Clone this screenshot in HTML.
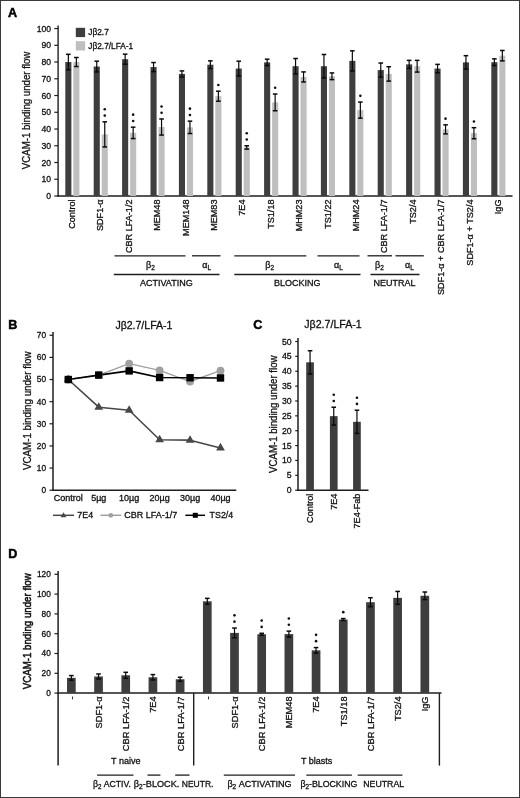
<!DOCTYPE html>
<html><head><meta charset="utf-8"><style>
html,body{margin:0;padding:0;background:#fff;}
#fig{position:relative;width:518px;height:796px;border:1px solid #3a3a3a;overflow:hidden;background:#fff;}
svg{position:absolute;left:-1px;top:-1px;filter:blur(0.3px);}
text{font-family:"Liberation Sans", sans-serif;stroke:#111;stroke-width:0.3px;}
</style></head><body><div id="fig">
<svg width="520" height="798" viewBox="0 0 520 798">
<text x="8.00" y="17.30" font-size="12.6" text-anchor="start" font-weight="bold" fill="#000" style="stroke:#000;stroke-width:0.5px">A</text>
<line x1="58.10" y1="25.50" x2="58.10" y2="196.70" stroke="#1e1e1e" stroke-width="1.4"/>
<line x1="57.40" y1="196.00" x2="512.50" y2="196.00" stroke="#1e1e1e" stroke-width="1.4"/>
<line x1="54.30" y1="196.00" x2="58.10" y2="196.00" stroke="#1e1e1e" stroke-width="1.2"/>
<text x="51.00" y="199.00" font-size="8.6" text-anchor="end" font-weight="normal" fill="#111" >0</text>
<line x1="54.30" y1="179.25" x2="58.10" y2="179.25" stroke="#1e1e1e" stroke-width="1.2"/>
<text x="51.00" y="182.25" font-size="8.6" text-anchor="end" font-weight="normal" fill="#111" >10</text>
<line x1="54.30" y1="162.51" x2="58.10" y2="162.51" stroke="#1e1e1e" stroke-width="1.2"/>
<text x="51.00" y="165.51" font-size="8.6" text-anchor="end" font-weight="normal" fill="#111" >20</text>
<line x1="54.30" y1="145.76" x2="58.10" y2="145.76" stroke="#1e1e1e" stroke-width="1.2"/>
<text x="51.00" y="148.76" font-size="8.6" text-anchor="end" font-weight="normal" fill="#111" >30</text>
<line x1="54.30" y1="129.02" x2="58.10" y2="129.02" stroke="#1e1e1e" stroke-width="1.2"/>
<text x="51.00" y="132.02" font-size="8.6" text-anchor="end" font-weight="normal" fill="#111" >40</text>
<line x1="54.30" y1="112.27" x2="58.10" y2="112.27" stroke="#1e1e1e" stroke-width="1.2"/>
<text x="51.00" y="115.27" font-size="8.6" text-anchor="end" font-weight="normal" fill="#111" >50</text>
<line x1="54.30" y1="95.52" x2="58.10" y2="95.52" stroke="#1e1e1e" stroke-width="1.2"/>
<text x="51.00" y="98.52" font-size="8.6" text-anchor="end" font-weight="normal" fill="#111" >60</text>
<line x1="54.30" y1="78.78" x2="58.10" y2="78.78" stroke="#1e1e1e" stroke-width="1.2"/>
<text x="51.00" y="81.78" font-size="8.6" text-anchor="end" font-weight="normal" fill="#111" >70</text>
<line x1="54.30" y1="62.03" x2="58.10" y2="62.03" stroke="#1e1e1e" stroke-width="1.2"/>
<text x="51.00" y="65.03" font-size="8.6" text-anchor="end" font-weight="normal" fill="#111" >80</text>
<line x1="54.30" y1="45.29" x2="58.10" y2="45.29" stroke="#1e1e1e" stroke-width="1.2"/>
<text x="51.00" y="48.29" font-size="8.6" text-anchor="end" font-weight="normal" fill="#111" >90</text>
<line x1="54.30" y1="28.54" x2="58.10" y2="28.54" stroke="#1e1e1e" stroke-width="1.2"/>
<text x="51.00" y="31.54" font-size="8.6" text-anchor="end" font-weight="normal" fill="#111" >100</text>
<rect x="75.80" y="27.80" width="9.30" height="9.30" fill="#3e3e3e"/>
<rect x="75.80" y="41.20" width="9.30" height="9.30" fill="#bfbfbf"/>
<text x="88.30" y="35.30" font-size="8.3" text-anchor="start" font-weight="normal" fill="#111" >Jβ2.7</text>
<text x="88.30" y="48.50" font-size="8.3" text-anchor="start" font-weight="normal" fill="#111" >Jβ2.7/LFA-1</text>
<text transform="translate(30.30,110.40) rotate(-90)" font-size="10.5" text-anchor="middle" fill="#111" textLength="117.5" lengthAdjust="spacingAndGlyphs" >VCAM-1 binding under flow</text>
<rect x="65.30" y="62.03" width="6.10" height="133.97" fill="#3e3e3e"/>
<line x1="68.35" y1="54.33" x2="68.35" y2="69.74" stroke="#0a0a0a" stroke-width="1.2"/>
<line x1="66.05" y1="54.33" x2="70.65" y2="54.33" stroke="#0a0a0a" stroke-width="1.5"/>
<line x1="66.05" y1="69.74" x2="70.65" y2="69.74" stroke="#0a0a0a" stroke-width="1.5"/>
<rect x="73.30" y="62.03" width="6.10" height="133.97" fill="#bfbfbf"/>
<line x1="76.35" y1="57.51" x2="76.35" y2="66.55" stroke="#0a0a0a" stroke-width="1.2"/>
<line x1="74.05" y1="57.51" x2="78.65" y2="57.51" stroke="#0a0a0a" stroke-width="1.5"/>
<line x1="74.05" y1="66.55" x2="78.65" y2="66.55" stroke="#0a0a0a" stroke-width="1.5"/>
<text transform="translate(75.05,199.50) rotate(-90)" font-size="9.1" text-anchor="end" fill="#111" >Control</text>
<rect x="93.70" y="66.55" width="6.10" height="129.45" fill="#3e3e3e"/>
<line x1="96.75" y1="61.19" x2="96.75" y2="71.91" stroke="#0a0a0a" stroke-width="1.2"/>
<line x1="94.45" y1="61.19" x2="99.05" y2="61.19" stroke="#0a0a0a" stroke-width="1.5"/>
<line x1="94.45" y1="71.91" x2="99.05" y2="71.91" stroke="#0a0a0a" stroke-width="1.5"/>
<rect x="101.70" y="134.37" width="6.10" height="61.63" fill="#bfbfbf"/>
<line x1="104.75" y1="121.82" x2="104.75" y2="146.93" stroke="#0a0a0a" stroke-width="1.2"/>
<line x1="102.45" y1="121.82" x2="107.05" y2="121.82" stroke="#0a0a0a" stroke-width="1.5"/>
<line x1="102.45" y1="146.93" x2="107.05" y2="146.93" stroke="#0a0a0a" stroke-width="1.5"/>
<circle cx="104.75" cy="115.62" r="1.3" fill="#111"/>
<circle cx="104.75" cy="109.32" r="1.3" fill="#111"/>
<text transform="translate(103.45,199.50) rotate(-90)" font-size="9.1" text-anchor="end" fill="#111" >SDF1-α</text>
<rect x="122.10" y="59.19" width="6.10" height="136.81" fill="#3e3e3e"/>
<line x1="125.15" y1="54.16" x2="125.15" y2="64.21" stroke="#0a0a0a" stroke-width="1.2"/>
<line x1="122.85" y1="54.16" x2="127.45" y2="54.16" stroke="#0a0a0a" stroke-width="1.5"/>
<line x1="122.85" y1="64.21" x2="127.45" y2="64.21" stroke="#0a0a0a" stroke-width="1.5"/>
<rect x="130.10" y="132.87" width="6.10" height="63.13" fill="#bfbfbf"/>
<line x1="133.15" y1="127.17" x2="133.15" y2="138.56" stroke="#0a0a0a" stroke-width="1.2"/>
<line x1="130.85" y1="127.17" x2="135.45" y2="127.17" stroke="#0a0a0a" stroke-width="1.5"/>
<line x1="130.85" y1="138.56" x2="135.45" y2="138.56" stroke="#0a0a0a" stroke-width="1.5"/>
<circle cx="133.15" cy="120.97" r="1.3" fill="#111"/>
<circle cx="133.15" cy="114.67" r="1.3" fill="#111"/>
<text transform="translate(131.85,199.50) rotate(-90)" font-size="9.1" text-anchor="end" fill="#111" >CBR LFA-1/2</text>
<rect x="150.50" y="67.06" width="6.10" height="128.94" fill="#3e3e3e"/>
<line x1="153.55" y1="62.53" x2="153.55" y2="71.58" stroke="#0a0a0a" stroke-width="1.2"/>
<line x1="151.25" y1="62.53" x2="155.85" y2="62.53" stroke="#0a0a0a" stroke-width="1.5"/>
<line x1="151.25" y1="71.58" x2="155.85" y2="71.58" stroke="#0a0a0a" stroke-width="1.5"/>
<rect x="158.50" y="127.01" width="6.10" height="68.99" fill="#bfbfbf"/>
<line x1="161.55" y1="118.97" x2="161.55" y2="135.04" stroke="#0a0a0a" stroke-width="1.2"/>
<line x1="159.25" y1="118.97" x2="163.85" y2="118.97" stroke="#0a0a0a" stroke-width="1.5"/>
<line x1="159.25" y1="135.04" x2="163.85" y2="135.04" stroke="#0a0a0a" stroke-width="1.5"/>
<circle cx="161.55" cy="112.77" r="1.3" fill="#111"/>
<circle cx="161.55" cy="106.47" r="1.3" fill="#111"/>
<text transform="translate(160.25,199.50) rotate(-90)" font-size="9.1" text-anchor="end" fill="#111" >MEM48</text>
<rect x="178.90" y="73.92" width="6.10" height="122.08" fill="#3e3e3e"/>
<line x1="181.95" y1="70.91" x2="181.95" y2="76.94" stroke="#0a0a0a" stroke-width="1.2"/>
<line x1="179.65" y1="70.91" x2="184.25" y2="70.91" stroke="#0a0a0a" stroke-width="1.5"/>
<line x1="179.65" y1="76.94" x2="184.25" y2="76.94" stroke="#0a0a0a" stroke-width="1.5"/>
<rect x="186.90" y="127.34" width="6.10" height="68.66" fill="#bfbfbf"/>
<line x1="189.95" y1="121.15" x2="189.95" y2="133.54" stroke="#0a0a0a" stroke-width="1.2"/>
<line x1="187.65" y1="121.15" x2="192.25" y2="121.15" stroke="#0a0a0a" stroke-width="1.5"/>
<line x1="187.65" y1="133.54" x2="192.25" y2="133.54" stroke="#0a0a0a" stroke-width="1.5"/>
<circle cx="189.95" cy="114.95" r="1.3" fill="#111"/>
<circle cx="189.95" cy="108.65" r="1.3" fill="#111"/>
<text transform="translate(188.65,199.50) rotate(-90)" font-size="9.1" text-anchor="end" fill="#111" >MEM148</text>
<rect x="207.30" y="64.71" width="6.10" height="131.29" fill="#3e3e3e"/>
<line x1="210.35" y1="60.86" x2="210.35" y2="68.56" stroke="#0a0a0a" stroke-width="1.2"/>
<line x1="208.05" y1="60.86" x2="212.65" y2="60.86" stroke="#0a0a0a" stroke-width="1.5"/>
<line x1="208.05" y1="68.56" x2="212.65" y2="68.56" stroke="#0a0a0a" stroke-width="1.5"/>
<rect x="215.30" y="96.19" width="6.10" height="99.81" fill="#bfbfbf"/>
<line x1="218.35" y1="91.17" x2="218.35" y2="101.22" stroke="#0a0a0a" stroke-width="1.2"/>
<line x1="216.05" y1="91.17" x2="220.65" y2="91.17" stroke="#0a0a0a" stroke-width="1.5"/>
<line x1="216.05" y1="101.22" x2="220.65" y2="101.22" stroke="#0a0a0a" stroke-width="1.5"/>
<circle cx="218.35" cy="84.97" r="1.3" fill="#111"/>
<text transform="translate(217.05,199.50) rotate(-90)" font-size="9.1" text-anchor="end" fill="#111" >MEM83</text>
<rect x="235.70" y="68.56" width="6.10" height="127.44" fill="#3e3e3e"/>
<line x1="238.75" y1="61.19" x2="238.75" y2="75.93" stroke="#0a0a0a" stroke-width="1.2"/>
<line x1="236.45" y1="61.19" x2="241.05" y2="61.19" stroke="#0a0a0a" stroke-width="1.5"/>
<line x1="236.45" y1="75.93" x2="241.05" y2="75.93" stroke="#0a0a0a" stroke-width="1.5"/>
<rect x="243.70" y="147.44" width="6.10" height="48.56" fill="#bfbfbf"/>
<line x1="246.75" y1="145.76" x2="246.75" y2="149.11" stroke="#0a0a0a" stroke-width="1.2"/>
<line x1="244.45" y1="145.76" x2="249.05" y2="145.76" stroke="#0a0a0a" stroke-width="1.5"/>
<line x1="244.45" y1="149.11" x2="249.05" y2="149.11" stroke="#0a0a0a" stroke-width="1.5"/>
<circle cx="246.75" cy="139.56" r="1.3" fill="#111"/>
<circle cx="246.75" cy="133.26" r="1.3" fill="#111"/>
<text transform="translate(245.45,199.50) rotate(-90)" font-size="9.1" text-anchor="end" fill="#111" >7E4</text>
<rect x="264.10" y="62.37" width="6.10" height="133.63" fill="#3e3e3e"/>
<line x1="267.15" y1="59.19" x2="267.15" y2="65.55" stroke="#0a0a0a" stroke-width="1.2"/>
<line x1="264.85" y1="59.19" x2="269.45" y2="59.19" stroke="#0a0a0a" stroke-width="1.5"/>
<line x1="264.85" y1="65.55" x2="269.45" y2="65.55" stroke="#0a0a0a" stroke-width="1.5"/>
<rect x="272.10" y="102.39" width="6.10" height="93.61" fill="#bfbfbf"/>
<line x1="275.15" y1="94.02" x2="275.15" y2="110.76" stroke="#0a0a0a" stroke-width="1.2"/>
<line x1="272.85" y1="94.02" x2="277.45" y2="94.02" stroke="#0a0a0a" stroke-width="1.5"/>
<line x1="272.85" y1="110.76" x2="277.45" y2="110.76" stroke="#0a0a0a" stroke-width="1.5"/>
<circle cx="275.15" cy="87.82" r="1.3" fill="#111"/>
<text transform="translate(273.85,199.50) rotate(-90)" font-size="9.1" text-anchor="end" fill="#111" >TS1/18</text>
<rect x="292.50" y="66.22" width="6.10" height="129.78" fill="#3e3e3e"/>
<line x1="295.55" y1="58.52" x2="295.55" y2="73.92" stroke="#0a0a0a" stroke-width="1.2"/>
<line x1="293.25" y1="58.52" x2="297.85" y2="58.52" stroke="#0a0a0a" stroke-width="1.5"/>
<line x1="293.25" y1="73.92" x2="297.85" y2="73.92" stroke="#0a0a0a" stroke-width="1.5"/>
<rect x="300.50" y="76.94" width="6.10" height="119.06" fill="#bfbfbf"/>
<line x1="303.55" y1="71.91" x2="303.55" y2="81.96" stroke="#0a0a0a" stroke-width="1.2"/>
<line x1="301.25" y1="71.91" x2="305.85" y2="71.91" stroke="#0a0a0a" stroke-width="1.5"/>
<line x1="301.25" y1="81.96" x2="305.85" y2="81.96" stroke="#0a0a0a" stroke-width="1.5"/>
<text transform="translate(302.25,199.50) rotate(-90)" font-size="9.1" text-anchor="end" fill="#111" >MHM23</text>
<rect x="320.90" y="66.22" width="6.10" height="129.78" fill="#3e3e3e"/>
<line x1="323.95" y1="54.50" x2="323.95" y2="77.94" stroke="#0a0a0a" stroke-width="1.2"/>
<line x1="321.65" y1="54.50" x2="326.25" y2="54.50" stroke="#0a0a0a" stroke-width="1.5"/>
<line x1="321.65" y1="77.94" x2="326.25" y2="77.94" stroke="#0a0a0a" stroke-width="1.5"/>
<rect x="328.90" y="76.27" width="6.10" height="119.73" fill="#bfbfbf"/>
<line x1="331.95" y1="72.92" x2="331.95" y2="79.62" stroke="#0a0a0a" stroke-width="1.2"/>
<line x1="329.65" y1="72.92" x2="334.25" y2="72.92" stroke="#0a0a0a" stroke-width="1.5"/>
<line x1="329.65" y1="79.62" x2="334.25" y2="79.62" stroke="#0a0a0a" stroke-width="1.5"/>
<text transform="translate(330.65,199.50) rotate(-90)" font-size="9.1" text-anchor="end" fill="#111" >TS1/22</text>
<rect x="349.30" y="60.86" width="6.10" height="135.14" fill="#3e3e3e"/>
<line x1="352.35" y1="50.81" x2="352.35" y2="70.91" stroke="#0a0a0a" stroke-width="1.2"/>
<line x1="350.05" y1="50.81" x2="354.65" y2="50.81" stroke="#0a0a0a" stroke-width="1.5"/>
<line x1="350.05" y1="70.91" x2="354.65" y2="70.91" stroke="#0a0a0a" stroke-width="1.5"/>
<rect x="357.30" y="110.09" width="6.10" height="85.91" fill="#bfbfbf"/>
<line x1="360.35" y1="102.05" x2="360.35" y2="118.13" stroke="#0a0a0a" stroke-width="1.2"/>
<line x1="358.05" y1="102.05" x2="362.65" y2="102.05" stroke="#0a0a0a" stroke-width="1.5"/>
<line x1="358.05" y1="118.13" x2="362.65" y2="118.13" stroke="#0a0a0a" stroke-width="1.5"/>
<circle cx="360.35" cy="95.85" r="1.3" fill="#111"/>
<text transform="translate(359.05,199.50) rotate(-90)" font-size="9.1" text-anchor="end" fill="#111" >MHM24</text>
<rect x="377.70" y="70.07" width="6.10" height="125.93" fill="#3e3e3e"/>
<line x1="380.75" y1="63.04" x2="380.75" y2="77.10" stroke="#0a0a0a" stroke-width="1.2"/>
<line x1="378.45" y1="63.04" x2="383.05" y2="63.04" stroke="#0a0a0a" stroke-width="1.5"/>
<line x1="378.45" y1="77.10" x2="383.05" y2="77.10" stroke="#0a0a0a" stroke-width="1.5"/>
<rect x="385.70" y="73.92" width="6.10" height="122.08" fill="#bfbfbf"/>
<line x1="388.75" y1="66.72" x2="388.75" y2="81.12" stroke="#0a0a0a" stroke-width="1.2"/>
<line x1="386.45" y1="66.72" x2="391.05" y2="66.72" stroke="#0a0a0a" stroke-width="1.5"/>
<line x1="386.45" y1="81.12" x2="391.05" y2="81.12" stroke="#0a0a0a" stroke-width="1.5"/>
<text transform="translate(387.45,199.50) rotate(-90)" font-size="9.1" text-anchor="end" fill="#111" >CBR LFA-1/7</text>
<rect x="406.10" y="64.38" width="6.10" height="131.62" fill="#3e3e3e"/>
<line x1="409.15" y1="60.36" x2="409.15" y2="68.40" stroke="#0a0a0a" stroke-width="1.2"/>
<line x1="406.85" y1="60.36" x2="411.45" y2="60.36" stroke="#0a0a0a" stroke-width="1.5"/>
<line x1="406.85" y1="68.40" x2="411.45" y2="68.40" stroke="#0a0a0a" stroke-width="1.5"/>
<rect x="414.10" y="66.22" width="6.10" height="129.78" fill="#bfbfbf"/>
<line x1="417.15" y1="60.36" x2="417.15" y2="72.08" stroke="#0a0a0a" stroke-width="1.2"/>
<line x1="414.85" y1="60.36" x2="419.45" y2="60.36" stroke="#0a0a0a" stroke-width="1.5"/>
<line x1="414.85" y1="72.08" x2="419.45" y2="72.08" stroke="#0a0a0a" stroke-width="1.5"/>
<text transform="translate(415.85,199.50) rotate(-90)" font-size="9.1" text-anchor="end" fill="#111" >TS2/4</text>
<rect x="434.50" y="68.56" width="6.10" height="127.44" fill="#3e3e3e"/>
<line x1="437.55" y1="64.38" x2="437.55" y2="72.75" stroke="#0a0a0a" stroke-width="1.2"/>
<line x1="435.25" y1="64.38" x2="439.85" y2="64.38" stroke="#0a0a0a" stroke-width="1.5"/>
<line x1="435.25" y1="72.75" x2="439.85" y2="72.75" stroke="#0a0a0a" stroke-width="1.5"/>
<rect x="442.50" y="129.35" width="6.10" height="66.65" fill="#bfbfbf"/>
<line x1="445.55" y1="124.83" x2="445.55" y2="133.87" stroke="#0a0a0a" stroke-width="1.2"/>
<line x1="443.25" y1="124.83" x2="447.85" y2="124.83" stroke="#0a0a0a" stroke-width="1.5"/>
<line x1="443.25" y1="133.87" x2="447.85" y2="133.87" stroke="#0a0a0a" stroke-width="1.5"/>
<circle cx="445.55" cy="118.63" r="1.3" fill="#111"/>
<text transform="translate(444.25,199.50) rotate(-90)" font-size="9.1" text-anchor="end" fill="#111" >SDF1-α + CBR LFA-1/7</text>
<rect x="462.90" y="62.37" width="6.10" height="133.63" fill="#3e3e3e"/>
<line x1="465.95" y1="55.67" x2="465.95" y2="69.07" stroke="#0a0a0a" stroke-width="1.2"/>
<line x1="463.65" y1="55.67" x2="468.25" y2="55.67" stroke="#0a0a0a" stroke-width="1.5"/>
<line x1="463.65" y1="69.07" x2="468.25" y2="69.07" stroke="#0a0a0a" stroke-width="1.5"/>
<rect x="470.90" y="133.20" width="6.10" height="62.80" fill="#bfbfbf"/>
<line x1="473.95" y1="127.68" x2="473.95" y2="138.73" stroke="#0a0a0a" stroke-width="1.2"/>
<line x1="471.65" y1="127.68" x2="476.25" y2="127.68" stroke="#0a0a0a" stroke-width="1.5"/>
<line x1="471.65" y1="138.73" x2="476.25" y2="138.73" stroke="#0a0a0a" stroke-width="1.5"/>
<circle cx="473.95" cy="121.48" r="1.3" fill="#111"/>
<text transform="translate(472.65,199.50) rotate(-90)" font-size="9.1" text-anchor="end" fill="#111" >SDF1-α + TS2/4</text>
<rect x="491.30" y="62.20" width="6.10" height="133.80" fill="#3e3e3e"/>
<line x1="494.35" y1="58.85" x2="494.35" y2="65.55" stroke="#0a0a0a" stroke-width="1.2"/>
<line x1="492.05" y1="58.85" x2="496.65" y2="58.85" stroke="#0a0a0a" stroke-width="1.5"/>
<line x1="492.05" y1="65.55" x2="496.65" y2="65.55" stroke="#0a0a0a" stroke-width="1.5"/>
<rect x="499.30" y="55.67" width="6.10" height="140.33" fill="#bfbfbf"/>
<line x1="502.35" y1="50.48" x2="502.35" y2="60.86" stroke="#0a0a0a" stroke-width="1.2"/>
<line x1="500.05" y1="50.48" x2="504.65" y2="50.48" stroke="#0a0a0a" stroke-width="1.5"/>
<line x1="500.05" y1="60.86" x2="504.65" y2="60.86" stroke="#0a0a0a" stroke-width="1.5"/>
<text transform="translate(501.05,199.50) rotate(-90)" font-size="9.1" text-anchor="end" fill="#111" >IgG</text>
<line x1="114.50" y1="255.80" x2="185.50" y2="255.80" stroke="#1e1e1e" stroke-width="1.3"/>
<line x1="192.00" y1="255.80" x2="220.50" y2="255.80" stroke="#1e1e1e" stroke-width="1.3"/>
<line x1="234.30" y1="255.80" x2="306.30" y2="255.80" stroke="#1e1e1e" stroke-width="1.3"/>
<line x1="317.50" y1="255.80" x2="359.50" y2="255.80" stroke="#1e1e1e" stroke-width="1.3"/>
<line x1="367.50" y1="255.80" x2="392.00" y2="255.80" stroke="#1e1e1e" stroke-width="1.3"/>
<line x1="395.50" y1="255.80" x2="423.80" y2="255.80" stroke="#1e1e1e" stroke-width="1.3"/>
<line x1="113.80" y1="274.50" x2="219.50" y2="274.50" stroke="#1e1e1e" stroke-width="1.3"/>
<line x1="234.30" y1="274.50" x2="360.50" y2="274.50" stroke="#1e1e1e" stroke-width="1.3"/>
<line x1="370.50" y1="274.50" x2="419.50" y2="274.50" stroke="#1e1e1e" stroke-width="1.3"/>
<text x="150.40" y="267.80" font-size="9" text-anchor="middle" fill="#111">β<tspan font-size="6.48" dy="2">2</tspan></text>
<text x="206.60" y="267.80" font-size="9" text-anchor="middle" fill="#111">α<tspan font-size="6.48" dy="2">L</tspan></text>
<text x="269.70" y="267.80" font-size="9" text-anchor="middle" fill="#111">β<tspan font-size="6.48" dy="2">2</tspan></text>
<text x="338.50" y="267.80" font-size="9" text-anchor="middle" fill="#111">α<tspan font-size="6.48" dy="2">L</tspan></text>
<text x="379.40" y="267.80" font-size="9" text-anchor="middle" fill="#111">β<tspan font-size="6.48" dy="2">2</tspan></text>
<text x="409.40" y="267.80" font-size="9" text-anchor="middle" fill="#111">α<tspan font-size="6.48" dy="2">L</tspan></text>
<text x="166.30" y="285.80" font-size="9.0" text-anchor="middle" font-weight="normal" fill="#111" textLength="52.8" lengthAdjust="spacingAndGlyphs" >ACTIVATING</text>
<text x="297.30" y="285.80" font-size="9.0" text-anchor="middle" font-weight="normal" fill="#111" >BLOCKING</text>
<text x="394.40" y="285.80" font-size="9.0" text-anchor="middle" font-weight="normal" fill="#111" >NEUTRAL</text>
<text x="8.20" y="328.80" font-size="12.6" text-anchor="start" font-weight="bold" fill="#000" style="stroke:#000;stroke-width:0.5px">B</text>
<text x="143.90" y="328.60" font-size="10.6" text-anchor="middle" font-weight="normal" fill="#111" textLength="57.0" lengthAdjust="spacingAndGlyphs" >Jβ2.7/LFA-1</text>
<line x1="53.00" y1="332.00" x2="53.00" y2="490.90" stroke="#1e1e1e" stroke-width="1.5"/>
<line x1="52.30" y1="490.20" x2="236.30" y2="490.20" stroke="#1e1e1e" stroke-width="1.5"/>
<line x1="49.50" y1="490.20" x2="53.00" y2="490.20" stroke="#1e1e1e" stroke-width="1.2"/>
<text x="46.00" y="493.15" font-size="8.3" text-anchor="end" font-weight="normal" fill="#111" >0</text>
<line x1="49.50" y1="468.06" x2="53.00" y2="468.06" stroke="#1e1e1e" stroke-width="1.2"/>
<text x="46.00" y="471.01" font-size="8.3" text-anchor="end" font-weight="normal" fill="#111" >10</text>
<line x1="49.50" y1="445.93" x2="53.00" y2="445.93" stroke="#1e1e1e" stroke-width="1.2"/>
<text x="46.00" y="448.88" font-size="8.3" text-anchor="end" font-weight="normal" fill="#111" >20</text>
<line x1="49.50" y1="423.79" x2="53.00" y2="423.79" stroke="#1e1e1e" stroke-width="1.2"/>
<text x="46.00" y="426.74" font-size="8.3" text-anchor="end" font-weight="normal" fill="#111" >30</text>
<line x1="49.50" y1="401.66" x2="53.00" y2="401.66" stroke="#1e1e1e" stroke-width="1.2"/>
<text x="46.00" y="404.61" font-size="8.3" text-anchor="end" font-weight="normal" fill="#111" >40</text>
<line x1="49.50" y1="379.52" x2="53.00" y2="379.52" stroke="#1e1e1e" stroke-width="1.2"/>
<text x="46.00" y="382.47" font-size="8.3" text-anchor="end" font-weight="normal" fill="#111" >50</text>
<line x1="49.50" y1="357.38" x2="53.00" y2="357.38" stroke="#1e1e1e" stroke-width="1.2"/>
<text x="46.00" y="360.33" font-size="8.3" text-anchor="end" font-weight="normal" fill="#111" >60</text>
<line x1="49.50" y1="335.25" x2="53.00" y2="335.25" stroke="#1e1e1e" stroke-width="1.2"/>
<text x="46.00" y="338.20" font-size="8.3" text-anchor="end" font-weight="normal" fill="#111" >70</text>
<text transform="translate(30.50,410.70) rotate(-90)" font-size="10.5" text-anchor="middle" fill="#111" textLength="118.5" lengthAdjust="spacingAndGlyphs" >VCAM-1 binding under flow</text>
<text x="68.30" y="500.90" font-size="9.0" text-anchor="middle" font-weight="normal" fill="#111" >Control</text>
<text x="98.74" y="500.90" font-size="9.0" text-anchor="middle" font-weight="normal" fill="#111" >5µg</text>
<text x="129.18" y="500.90" font-size="9.0" text-anchor="middle" font-weight="normal" fill="#111" >10µg</text>
<text x="159.62" y="500.90" font-size="9.0" text-anchor="middle" font-weight="normal" fill="#111" >20µg</text>
<text x="190.06" y="500.90" font-size="9.0" text-anchor="middle" font-weight="normal" fill="#111" >30µg</text>
<text x="220.50" y="500.90" font-size="9.0" text-anchor="middle" font-weight="normal" fill="#111" >40µg</text>
<polyline points="68.30,379.52 98.74,407.19 129.18,410.29 159.62,439.73 190.06,440.17 220.50,447.92" fill="none" stroke="#474747" stroke-width="1.6" stroke-linejoin="round"/>
<polyline points="68.30,379.52 98.74,375.09 129.18,363.58 159.62,370.44 190.06,381.51 220.50,370.67" fill="none" stroke="#a0a0a0" stroke-width="1.35" stroke-linejoin="round"/>
<polyline points="68.30,379.52 98.74,375.09 129.18,370.89 159.62,377.53 190.06,377.75 220.50,377.97" fill="none" stroke="#000" stroke-width="1.6" stroke-linejoin="round"/>
<polygon points="63.95,382.04 72.65,382.04 68.30,374.47" fill="#474747"/>
<polygon points="94.39,409.71 103.09,409.71 98.74,402.14" fill="#474747"/>
<polygon points="124.83,412.81 133.53,412.81 129.18,405.24" fill="#474747"/>
<polygon points="155.27,442.25 163.97,442.25 159.62,434.68" fill="#474747"/>
<polygon points="185.71,442.70 194.41,442.70 190.06,435.13" fill="#474747"/>
<polygon points="216.15,450.44 224.85,450.44 220.50,442.87" fill="#474747"/>
<circle cx="68.30" cy="379.52" r="3.9" fill="#a0a0a0"/>
<circle cx="98.74" cy="375.09" r="3.9" fill="#a0a0a0"/>
<circle cx="129.18" cy="363.58" r="3.9" fill="#a0a0a0"/>
<circle cx="159.62" cy="370.44" r="3.9" fill="#a0a0a0"/>
<circle cx="190.06" cy="381.51" r="3.9" fill="#a0a0a0"/>
<circle cx="220.50" cy="370.67" r="3.9" fill="#a0a0a0"/>
<rect x="64.60" y="375.82" width="7.40" height="7.40" fill="#000"/>
<rect x="95.04" y="371.39" width="7.40" height="7.40" fill="#000"/>
<rect x="125.48" y="367.19" width="7.40" height="7.40" fill="#000"/>
<rect x="155.92" y="373.83" width="7.40" height="7.40" fill="#000"/>
<rect x="186.36" y="374.05" width="7.40" height="7.40" fill="#000"/>
<rect x="216.80" y="374.27" width="7.40" height="7.40" fill="#000"/>
<line x1="53.00" y1="515.30" x2="74.00" y2="515.30" stroke="#474747" stroke-width="1.5"/>
<polygon points="60.60,517.28 66.40,517.28 63.50,512.24" fill="#474747"/>
<text x="77.30" y="518.00" font-size="8.9" text-anchor="start" font-weight="normal" fill="#111" >7E4</text>
<line x1="100.40" y1="515.30" x2="121.20" y2="515.30" stroke="#a0a0a0" stroke-width="1.5"/>
<circle cx="110.80" cy="515.30" r="2.4" fill="#a0a0a0"/>
<text x="124.20" y="518.00" font-size="9.0" text-anchor="start" font-weight="normal" fill="#111" >CBR LFA-1/7</text>
<line x1="185.40" y1="515.30" x2="205.00" y2="515.30" stroke="#000" stroke-width="1.5"/>
<rect x="192.80" y="512.80" width="5.00" height="5.00" fill="#000"/>
<text x="209.60" y="518.00" font-size="8.9" text-anchor="start" font-weight="normal" fill="#111" >TS2/4</text>
<text x="253.30" y="328.80" font-size="12.6" text-anchor="start" font-weight="bold" fill="#000" style="stroke:#000;stroke-width:0.5px">C</text>
<text x="333.00" y="328.30" font-size="10.6" text-anchor="middle" font-weight="normal" fill="#111" textLength="57.5" lengthAdjust="spacingAndGlyphs" >Jβ2.7/LFA-1</text>
<line x1="298.00" y1="338.00" x2="298.00" y2="490.90" stroke="#1e1e1e" stroke-width="1.5"/>
<line x1="297.30" y1="490.20" x2="368.50" y2="490.20" stroke="#1e1e1e" stroke-width="1.5"/>
<line x1="295.20" y1="490.20" x2="298.00" y2="490.20" stroke="#1e1e1e" stroke-width="1.2"/>
<text x="291.60" y="493.20" font-size="8.7" text-anchor="end" font-weight="normal" fill="#111" >0</text>
<line x1="295.20" y1="475.33" x2="298.00" y2="475.33" stroke="#1e1e1e" stroke-width="1.2"/>
<text x="291.60" y="478.33" font-size="8.7" text-anchor="end" font-weight="normal" fill="#111" >5</text>
<line x1="295.20" y1="460.46" x2="298.00" y2="460.46" stroke="#1e1e1e" stroke-width="1.2"/>
<text x="291.60" y="463.46" font-size="8.7" text-anchor="end" font-weight="normal" fill="#111" >10</text>
<line x1="295.20" y1="445.59" x2="298.00" y2="445.59" stroke="#1e1e1e" stroke-width="1.2"/>
<text x="291.60" y="448.59" font-size="8.7" text-anchor="end" font-weight="normal" fill="#111" >15</text>
<line x1="295.20" y1="430.72" x2="298.00" y2="430.72" stroke="#1e1e1e" stroke-width="1.2"/>
<text x="291.60" y="433.72" font-size="8.7" text-anchor="end" font-weight="normal" fill="#111" >20</text>
<line x1="295.20" y1="415.85" x2="298.00" y2="415.85" stroke="#1e1e1e" stroke-width="1.2"/>
<text x="291.60" y="418.85" font-size="8.7" text-anchor="end" font-weight="normal" fill="#111" >25</text>
<line x1="295.20" y1="400.98" x2="298.00" y2="400.98" stroke="#1e1e1e" stroke-width="1.2"/>
<text x="291.60" y="403.98" font-size="8.7" text-anchor="end" font-weight="normal" fill="#111" >30</text>
<line x1="295.20" y1="386.11" x2="298.00" y2="386.11" stroke="#1e1e1e" stroke-width="1.2"/>
<text x="291.60" y="389.11" font-size="8.7" text-anchor="end" font-weight="normal" fill="#111" >35</text>
<line x1="295.20" y1="371.24" x2="298.00" y2="371.24" stroke="#1e1e1e" stroke-width="1.2"/>
<text x="291.60" y="374.24" font-size="8.7" text-anchor="end" font-weight="normal" fill="#111" >40</text>
<line x1="295.20" y1="356.37" x2="298.00" y2="356.37" stroke="#1e1e1e" stroke-width="1.2"/>
<text x="291.60" y="359.37" font-size="8.7" text-anchor="end" font-weight="normal" fill="#111" >45</text>
<line x1="295.20" y1="341.50" x2="298.00" y2="341.50" stroke="#1e1e1e" stroke-width="1.2"/>
<text x="291.60" y="344.50" font-size="8.7" text-anchor="end" font-weight="normal" fill="#111" >50</text>
<text transform="translate(276.70,414.20) rotate(-90)" font-size="10.5" text-anchor="middle" fill="#111" textLength="117.5" lengthAdjust="spacingAndGlyphs" >VCAM-1 binding under flow</text>
<rect x="306.20" y="362.32" width="7.70" height="127.88" fill="#3e3e3e"/>
<line x1="310.05" y1="350.72" x2="310.05" y2="373.92" stroke="#0a0a0a" stroke-width="1.2"/>
<line x1="307.75" y1="350.72" x2="312.35" y2="350.72" stroke="#0a0a0a" stroke-width="1.5"/>
<line x1="307.75" y1="373.92" x2="312.35" y2="373.92" stroke="#0a0a0a" stroke-width="1.5"/>
<text transform="translate(313.15,493.60) rotate(-90)" font-size="9.1" text-anchor="end" fill="#111" >Control</text>
<rect x="329.90" y="416.15" width="7.70" height="74.05" fill="#3e3e3e"/>
<line x1="333.75" y1="407.23" x2="333.75" y2="425.07" stroke="#0a0a0a" stroke-width="1.2"/>
<line x1="331.45" y1="407.23" x2="336.05" y2="407.23" stroke="#0a0a0a" stroke-width="1.5"/>
<line x1="331.45" y1="425.07" x2="336.05" y2="425.07" stroke="#0a0a0a" stroke-width="1.5"/>
<circle cx="333.75" cy="400.93" r="1.3" fill="#111"/>
<circle cx="333.75" cy="394.73" r="1.3" fill="#111"/>
<text transform="translate(336.85,493.60) rotate(-90)" font-size="9.1" text-anchor="end" fill="#111" >7E4</text>
<rect x="353.10" y="421.80" width="7.70" height="68.40" fill="#3e3e3e"/>
<line x1="356.95" y1="410.20" x2="356.95" y2="433.40" stroke="#0a0a0a" stroke-width="1.2"/>
<line x1="354.65" y1="410.20" x2="359.25" y2="410.20" stroke="#0a0a0a" stroke-width="1.5"/>
<line x1="354.65" y1="433.40" x2="359.25" y2="433.40" stroke="#0a0a0a" stroke-width="1.5"/>
<circle cx="356.95" cy="403.90" r="1.3" fill="#111"/>
<circle cx="356.95" cy="397.70" r="1.3" fill="#111"/>
<text transform="translate(360.05,493.60) rotate(-90)" font-size="9.1" text-anchor="end" fill="#111" >7E4-Fab</text>
<text x="8.20" y="557.60" font-size="12.6" text-anchor="start" font-weight="bold" fill="#000" style="stroke:#000;stroke-width:0.5px">D</text>
<line x1="58.10" y1="571.00" x2="58.10" y2="765.60" stroke="#1e1e1e" stroke-width="1.5"/>
<line x1="57.40" y1="693.10" x2="441.50" y2="693.10" stroke="#1e1e1e" stroke-width="1.5"/>
<line x1="193.70" y1="693.10" x2="193.70" y2="765.40" stroke="#1e1e1e" stroke-width="1.4"/>
<line x1="439.40" y1="693.10" x2="439.40" y2="765.60" stroke="#1e1e1e" stroke-width="1.4"/>
<line x1="54.50" y1="693.10" x2="58.10" y2="693.10" stroke="#1e1e1e" stroke-width="1.2"/>
<text x="50.80" y="696.05" font-size="8.3" text-anchor="end" font-weight="normal" fill="#111" >0</text>
<line x1="54.50" y1="673.30" x2="58.10" y2="673.30" stroke="#1e1e1e" stroke-width="1.2"/>
<text x="50.80" y="676.25" font-size="8.3" text-anchor="end" font-weight="normal" fill="#111" >20</text>
<line x1="54.50" y1="653.50" x2="58.10" y2="653.50" stroke="#1e1e1e" stroke-width="1.2"/>
<text x="50.80" y="656.45" font-size="8.3" text-anchor="end" font-weight="normal" fill="#111" >40</text>
<line x1="54.50" y1="633.70" x2="58.10" y2="633.70" stroke="#1e1e1e" stroke-width="1.2"/>
<text x="50.80" y="636.65" font-size="8.3" text-anchor="end" font-weight="normal" fill="#111" >60</text>
<line x1="54.50" y1="613.90" x2="58.10" y2="613.90" stroke="#1e1e1e" stroke-width="1.2"/>
<text x="50.80" y="616.85" font-size="8.3" text-anchor="end" font-weight="normal" fill="#111" >80</text>
<line x1="54.50" y1="594.10" x2="58.10" y2="594.10" stroke="#1e1e1e" stroke-width="1.2"/>
<text x="50.80" y="597.05" font-size="8.3" text-anchor="end" font-weight="normal" fill="#111" >100</text>
<line x1="54.50" y1="574.30" x2="58.10" y2="574.30" stroke="#1e1e1e" stroke-width="1.2"/>
<text x="50.80" y="577.25" font-size="8.3" text-anchor="end" font-weight="normal" fill="#111" >120</text>
<text transform="translate(30.90,631.30) rotate(-90)" font-size="11.0" text-anchor="middle" fill="#111" textLength="116" lengthAdjust="spacingAndGlyphs" style="stroke-width:0.55px">VCAM-1 bnding under flow</text>
<rect x="67.00" y="677.85" width="8.70" height="15.25" fill="#3e3e3e"/>
<line x1="71.35" y1="675.58" x2="71.35" y2="680.13" stroke="#0a0a0a" stroke-width="1.2"/>
<line x1="69.05" y1="675.58" x2="73.65" y2="675.58" stroke="#0a0a0a" stroke-width="1.5"/>
<line x1="69.05" y1="680.13" x2="73.65" y2="680.13" stroke="#0a0a0a" stroke-width="1.5"/>
<text transform="translate(74.75,696.50) rotate(-90)" font-size="9.7" text-anchor="end" fill="#111" textLength="3.06" lengthAdjust="spacingAndGlyphs" >-</text>
<rect x="94.19" y="676.47" width="8.70" height="16.63" fill="#3e3e3e"/>
<line x1="98.54" y1="673.99" x2="98.54" y2="678.94" stroke="#0a0a0a" stroke-width="1.2"/>
<line x1="96.24" y1="673.99" x2="100.84" y2="673.99" stroke="#0a0a0a" stroke-width="1.5"/>
<line x1="96.24" y1="678.94" x2="100.84" y2="678.94" stroke="#0a0a0a" stroke-width="1.5"/>
<text transform="translate(101.94,696.50) rotate(-90)" font-size="9.7" text-anchor="end" fill="#111" textLength="31.9" lengthAdjust="spacingAndGlyphs" >SDF1-α</text>
<rect x="121.38" y="675.28" width="8.70" height="17.82" fill="#3e3e3e"/>
<line x1="125.73" y1="672.31" x2="125.73" y2="678.25" stroke="#0a0a0a" stroke-width="1.2"/>
<line x1="123.43" y1="672.31" x2="128.03" y2="672.31" stroke="#0a0a0a" stroke-width="1.5"/>
<line x1="123.43" y1="678.25" x2="128.03" y2="678.25" stroke="#0a0a0a" stroke-width="1.5"/>
<text transform="translate(129.13,696.50) rotate(-90)" font-size="9.7" text-anchor="end" fill="#111" textLength="54.71" lengthAdjust="spacingAndGlyphs" >CBR LFA-1/2</text>
<rect x="148.57" y="677.26" width="8.70" height="15.84" fill="#3e3e3e"/>
<line x1="152.92" y1="674.59" x2="152.92" y2="679.93" stroke="#0a0a0a" stroke-width="1.2"/>
<line x1="150.62" y1="674.59" x2="155.22" y2="674.59" stroke="#0a0a0a" stroke-width="1.5"/>
<line x1="150.62" y1="679.93" x2="155.22" y2="679.93" stroke="#0a0a0a" stroke-width="1.5"/>
<text transform="translate(156.32,696.50) rotate(-90)" font-size="9.7" text-anchor="end" fill="#111" textLength="16.37" lengthAdjust="spacingAndGlyphs" >7E4</text>
<rect x="175.76" y="679.24" width="8.70" height="13.86" fill="#3e3e3e"/>
<line x1="180.11" y1="677.26" x2="180.11" y2="681.22" stroke="#0a0a0a" stroke-width="1.2"/>
<line x1="177.81" y1="677.26" x2="182.41" y2="677.26" stroke="#0a0a0a" stroke-width="1.5"/>
<line x1="177.81" y1="681.22" x2="182.41" y2="681.22" stroke="#0a0a0a" stroke-width="1.5"/>
<text transform="translate(183.51,696.50) rotate(-90)" font-size="9.7" text-anchor="end" fill="#111" textLength="54.71" lengthAdjust="spacingAndGlyphs" >CBR LFA-1/7</text>
<rect x="202.95" y="601.33" width="8.70" height="91.77" fill="#3e3e3e"/>
<line x1="207.30" y1="598.36" x2="207.30" y2="604.30" stroke="#0a0a0a" stroke-width="1.2"/>
<line x1="205.00" y1="598.36" x2="209.60" y2="598.36" stroke="#0a0a0a" stroke-width="1.5"/>
<line x1="205.00" y1="604.30" x2="209.60" y2="604.30" stroke="#0a0a0a" stroke-width="1.5"/>
<text transform="translate(210.70,696.50) rotate(-90)" font-size="9.7" text-anchor="end" fill="#111" textLength="3.06" lengthAdjust="spacingAndGlyphs" >-</text>
<rect x="230.14" y="632.91" width="8.70" height="60.19" fill="#3e3e3e"/>
<line x1="234.49" y1="628.06" x2="234.49" y2="637.76" stroke="#0a0a0a" stroke-width="1.2"/>
<line x1="232.19" y1="628.06" x2="236.79" y2="628.06" stroke="#0a0a0a" stroke-width="1.5"/>
<line x1="232.19" y1="637.76" x2="236.79" y2="637.76" stroke="#0a0a0a" stroke-width="1.5"/>
<circle cx="234.49" cy="621.66" r="1.3" fill="#111"/>
<circle cx="234.49" cy="615.36" r="1.3" fill="#111"/>
<text transform="translate(237.89,696.50) rotate(-90)" font-size="9.7" text-anchor="end" fill="#111" textLength="31.9" lengthAdjust="spacingAndGlyphs" >SDF1-α</text>
<rect x="257.33" y="634.29" width="8.70" height="58.81" fill="#3e3e3e"/>
<line x1="261.68" y1="633.30" x2="261.68" y2="635.28" stroke="#0a0a0a" stroke-width="1.2"/>
<line x1="259.38" y1="633.30" x2="263.98" y2="633.30" stroke="#0a0a0a" stroke-width="1.5"/>
<line x1="259.38" y1="635.28" x2="263.98" y2="635.28" stroke="#0a0a0a" stroke-width="1.5"/>
<circle cx="261.68" cy="626.90" r="1.3" fill="#111"/>
<circle cx="261.68" cy="620.60" r="1.3" fill="#111"/>
<text transform="translate(265.08,696.50) rotate(-90)" font-size="9.7" text-anchor="end" fill="#111" textLength="54.71" lengthAdjust="spacingAndGlyphs" >CBR LFA-1/2</text>
<rect x="284.52" y="634.10" width="8.70" height="59.00" fill="#3e3e3e"/>
<line x1="288.87" y1="631.13" x2="288.87" y2="637.07" stroke="#0a0a0a" stroke-width="1.2"/>
<line x1="286.57" y1="631.13" x2="291.17" y2="631.13" stroke="#0a0a0a" stroke-width="1.5"/>
<line x1="286.57" y1="637.07" x2="291.17" y2="637.07" stroke="#0a0a0a" stroke-width="1.5"/>
<circle cx="288.87" cy="624.73" r="1.3" fill="#111"/>
<circle cx="288.87" cy="618.43" r="1.3" fill="#111"/>
<text transform="translate(292.27,696.50) rotate(-90)" font-size="9.7" text-anchor="end" fill="#111" textLength="31.7" lengthAdjust="spacingAndGlyphs" >MEM48</text>
<rect x="311.71" y="650.33" width="8.70" height="42.77" fill="#3e3e3e"/>
<line x1="316.06" y1="647.56" x2="316.06" y2="653.10" stroke="#0a0a0a" stroke-width="1.2"/>
<line x1="313.76" y1="647.56" x2="318.36" y2="647.56" stroke="#0a0a0a" stroke-width="1.5"/>
<line x1="313.76" y1="653.10" x2="318.36" y2="653.10" stroke="#0a0a0a" stroke-width="1.5"/>
<circle cx="316.06" cy="641.16" r="1.3" fill="#111"/>
<circle cx="316.06" cy="634.86" r="1.3" fill="#111"/>
<text transform="translate(319.46,696.50) rotate(-90)" font-size="9.7" text-anchor="end" fill="#111" textLength="16.37" lengthAdjust="spacingAndGlyphs" >7E4</text>
<rect x="338.90" y="619.54" width="8.70" height="73.56" fill="#3e3e3e"/>
<line x1="343.25" y1="618.55" x2="343.25" y2="620.53" stroke="#0a0a0a" stroke-width="1.2"/>
<line x1="340.95" y1="618.55" x2="345.55" y2="618.55" stroke="#0a0a0a" stroke-width="1.5"/>
<line x1="340.95" y1="620.53" x2="345.55" y2="620.53" stroke="#0a0a0a" stroke-width="1.5"/>
<circle cx="343.25" cy="612.15" r="1.3" fill="#111"/>
<text transform="translate(346.65,696.50) rotate(-90)" font-size="9.7" text-anchor="end" fill="#111" textLength="29.66" lengthAdjust="spacingAndGlyphs" >TS1/18</text>
<rect x="366.09" y="602.22" width="8.70" height="90.88" fill="#3e3e3e"/>
<line x1="370.44" y1="597.76" x2="370.44" y2="606.67" stroke="#0a0a0a" stroke-width="1.2"/>
<line x1="368.14" y1="597.76" x2="372.74" y2="597.76" stroke="#0a0a0a" stroke-width="1.5"/>
<line x1="368.14" y1="606.67" x2="372.74" y2="606.67" stroke="#0a0a0a" stroke-width="1.5"/>
<text transform="translate(373.84,696.50) rotate(-90)" font-size="9.7" text-anchor="end" fill="#111" textLength="54.71" lengthAdjust="spacingAndGlyphs" >CBR LFA-1/7</text>
<rect x="393.28" y="597.86" width="8.70" height="95.24" fill="#3e3e3e"/>
<line x1="397.63" y1="591.43" x2="397.63" y2="604.30" stroke="#0a0a0a" stroke-width="1.2"/>
<line x1="395.33" y1="591.43" x2="399.93" y2="591.43" stroke="#0a0a0a" stroke-width="1.5"/>
<line x1="395.33" y1="604.30" x2="399.93" y2="604.30" stroke="#0a0a0a" stroke-width="1.5"/>
<text transform="translate(401.03,696.50) rotate(-90)" font-size="9.7" text-anchor="end" fill="#111" textLength="24.55" lengthAdjust="spacingAndGlyphs" >TS2/4</text>
<rect x="420.47" y="595.78" width="8.70" height="97.32" fill="#3e3e3e"/>
<line x1="424.82" y1="592.02" x2="424.82" y2="599.55" stroke="#0a0a0a" stroke-width="1.2"/>
<line x1="422.52" y1="592.02" x2="427.12" y2="592.02" stroke="#0a0a0a" stroke-width="1.5"/>
<line x1="422.52" y1="599.55" x2="427.12" y2="599.55" stroke="#0a0a0a" stroke-width="1.5"/>
<text transform="translate(428.22,696.50) rotate(-90)" font-size="9.7" text-anchor="end" fill="#111" textLength="14.83" lengthAdjust="spacingAndGlyphs" >IgG</text>
<text x="125.80" y="764.00" font-size="9.0" text-anchor="middle" font-weight="normal" fill="#111" >T naive</text>
<text x="316.70" y="764.10" font-size="9.0" text-anchor="middle" font-weight="normal" fill="#111" >T blasts</text>
<line x1="97.10" y1="775.10" x2="133.50" y2="775.10" stroke="#1e1e1e" stroke-width="1.3"/>
<line x1="147.50" y1="775.10" x2="160.40" y2="775.10" stroke="#1e1e1e" stroke-width="1.3"/>
<line x1="175.20" y1="775.10" x2="189.50" y2="775.10" stroke="#1e1e1e" stroke-width="1.3"/>
<line x1="223.80" y1="775.10" x2="295.00" y2="775.10" stroke="#1e1e1e" stroke-width="1.3"/>
<line x1="306.30" y1="775.10" x2="351.90" y2="775.10" stroke="#1e1e1e" stroke-width="1.3"/>
<line x1="357.70" y1="775.10" x2="402.40" y2="775.10" stroke="#1e1e1e" stroke-width="1.3"/>
<text x="92.90" y="787.10" font-size="9.0" text-anchor="start" fill="#111" textLength="38.0" lengthAdjust="spacingAndGlyphs">β<tspan font-size="6.48" dy="2">2</tspan><tspan dy="-2"> ACTIV.</tspan></text>
<text x="133.80" y="787.10" font-size="9.0" text-anchor="start" fill="#111" textLength="45.6" lengthAdjust="spacingAndGlyphs">β<tspan font-size="6.48" dy="2">2</tspan><tspan dy="-2">-BLOCK.</tspan></text>
<text x="181.80" y="787.10" font-size="9.0" text-anchor="start" fill="#111" textLength="31.6" lengthAdjust="spacingAndGlyphs">NEUTR.</text>
<text x="227.40" y="787.10" font-size="9.0" text-anchor="start" fill="#111" textLength="64.2" lengthAdjust="spacingAndGlyphs">β<tspan font-size="6.48" dy="2">2</tspan><tspan dy="-2"> ACTIVATING</tspan></text>
<text x="300.40" y="787.10" font-size="9.0" text-anchor="start" fill="#111" textLength="57.0" lengthAdjust="spacingAndGlyphs">β<tspan font-size="6.48" dy="2">2</tspan><tspan dy="-2">-BLOCKING</tspan></text>
<text x="363.30" y="787.10" font-size="9.0" text-anchor="start" fill="#111" textLength="40.8" lengthAdjust="spacingAndGlyphs">NEUTRAL</text>
</svg></div></body></html>
